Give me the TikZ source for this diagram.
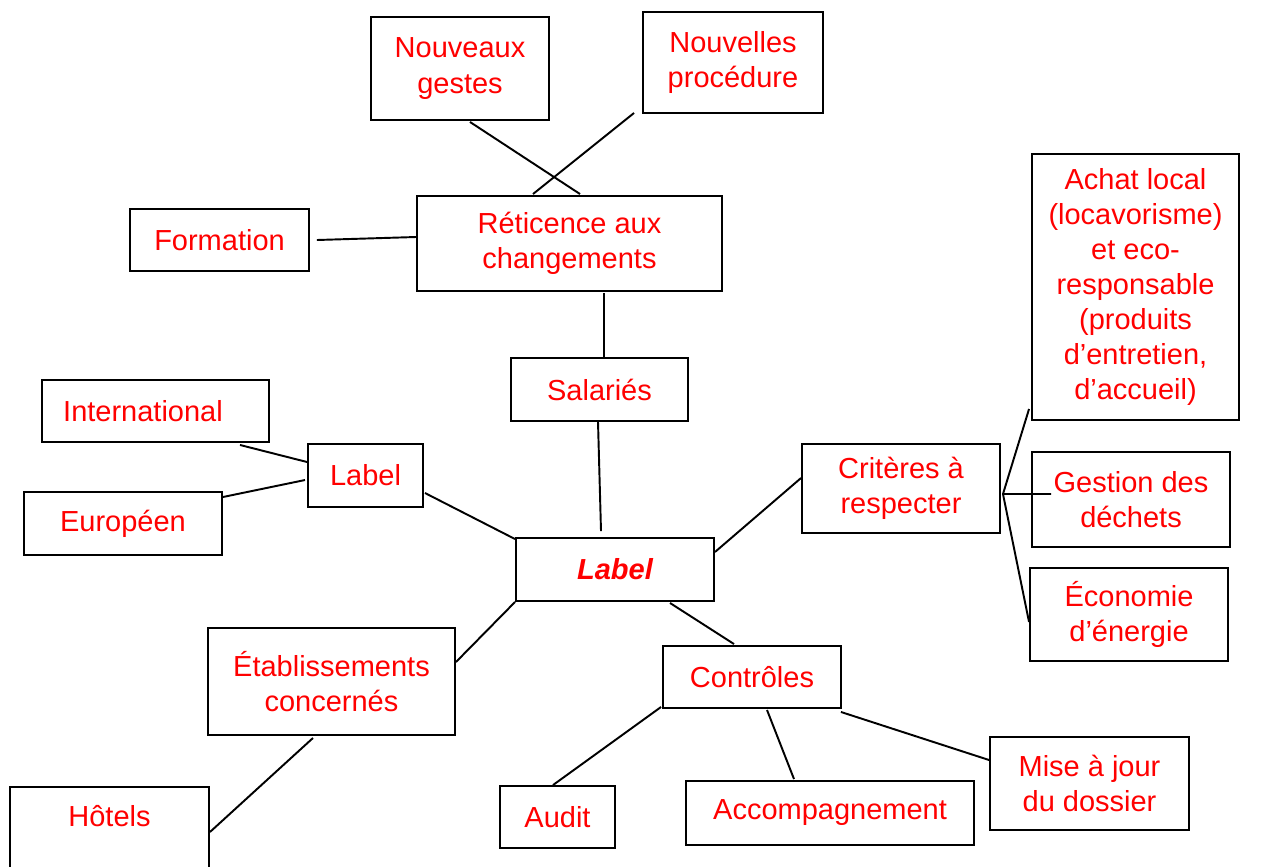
\documentclass[tikz,border=0pt]{standalone}
\usepackage{fontspec}
\setmainfont{Liberation Sans}
\usetikzlibrary{calc}
\tikzset{
  mapbox/.style={draw,line width=1.1pt,align=center,text=red,inner sep=0pt,
    font=\fontsize{16.5}{20}\selectfont},
  link/.style={line width=1.1pt}
}
\begin{document}
\begin{tikzpicture}[x=0.02cm,y=-0.02cm]
  \useasboundingbox (0,0) rectangle (1273,866);
  \node [mapbox,minimum width=178*0.02cm,minimum height=103*0.02cm] (gestes)    at (460,68.5)   {Nouveaux\\gestes};
  \node [mapbox,minimum width=180*0.02cm,minimum height=101*0.02cm] (procedure) at (733,62.5)   {Nouvelles\\procédure};
  \node [mapbox,minimum width=179*0.02cm,minimum height=62*0.02cm]  (formation) at (219.5,240)  {Formation};
  \node [mapbox,minimum width=305*0.02cm,minimum height=95*0.02cm]  (reticence) at (569.5,243.5) {Réticence aux\\changements};
  \node [mapbox,minimum width=177*0.02cm,minimum height=63*0.02cm]  (salaries)  at (599.5,389.5) {Salariés};
  \node [mapbox,minimum width=227*0.02cm,minimum height=62*0.02cm]  (inter)     at (155.5,411)  {International\hspace{0.5cm}};
  \node [mapbox,minimum width=115*0.02cm,minimum height=63*0.02cm]  (labelsub)  at (365.5,475.5) {Label};
  \node [mapbox,minimum width=198*0.02cm,minimum height=63*0.02cm]  (europe)    at (123,523.5)  {Européen};
  \node [mapbox,minimum width=198*0.02cm,minimum height=63*0.02cm,font=\fontsize{16.5}{20}\selectfont\bfseries\itshape] (label) at (615,569.5) {Label};
  \node [mapbox,minimum width=198*0.02cm,minimum height=89*0.02cm]  (criteres)  at (901,488.5)  {Critères à\\respecter};
  \node [mapbox,minimum width=207*0.02cm,minimum height=266*0.02cm] (achat)     at (1135.5,287) {Achat local\\(locavorisme)\\et eco-\\responsable\\(produits\\d’entretien,\\d’accueil)};
  \node [mapbox,minimum width=198*0.02cm,minimum height=95*0.02cm]  (dechets)   at (1131,499.5) {Gestion des\\déchets};
  \node [mapbox,minimum width=198*0.02cm,minimum height=93*0.02cm]  (energie)   at (1129,614.5) {Économie\\d’énergie};
  \node [mapbox,minimum width=247*0.02cm,minimum height=107*0.02cm] (etab)      at (331.5,681.5) {Établissements\\concernés};
  \node [mapbox,minimum width=178*0.02cm,minimum height=62*0.02cm]  (controles) at (752,677)    {Contrôles};
  \node [mapbox,minimum width=199*0.02cm,minimum height=94*0.02cm,anchor=north,
    text height=0.42cm,text depth=0.7cm] (hotels) at (109.5,786) {Hôtels};
  \node [mapbox,minimum width=115*0.02cm,minimum height=62*0.02cm]  (audit)     at (557.5,817)  {Audit};
  \node [mapbox,minimum width=288*0.02cm,minimum height=64*0.02cm]  (accomp)    at (830,813)    {Accompagnement};
  \node [mapbox,minimum width=199*0.02cm,minimum height=93*0.02cm]  (dossier)   at (1089.5,783.5) {Mise à jour\\du dossier};
  \coordinate (fork) at ($(criteres.east)+(2,5.5)$);

  \draw [link] ($(gestes.south)+(10,1)$) -- ($(reticence.north)+(10.5,-1)$);
  \draw [link] ($(procedure.south west)+(-8,-1)$) -- ($(reticence.north)+(-36.5,-1)$);
  \draw [link] ($(formation.east)+(7,0)$) -- ($(reticence.west)+(0,-6.5)$);
  \draw [link] ($(reticence.south)+(34.5,1)$) -- ($(salaries.north)+(4.5,0)$);
  \draw [link] ($(salaries.south)+(-1.5,0)$) -- ($(label.north)+(-14,-6)$);
  \draw [link] ($(inter.south)+(84.5,2)$) -- ($(labelsub.west)+(0,-13.5)$);
  \draw [link] ($(europe.east)+(0,-26.5)$) -- ($(labelsub.west)+(-2,4.5)$);
  \draw [link] ($(labelsub.east)+(1,17.5)$) -- ($(label.north west)+(0,2)$);
  \draw [link] ($(criteres.west)+(0,-10.5)$) -- ($(label.east)+(0,-17.5)$);
  \draw [link] (fork) -- ($(achat.south west)+(-2,-12)$);
  \draw [link] (fork) -- ($(dechets.west)+(20,-5.5)$);
  \draw [link] (fork) -- ($(energie.west)+(0,7.5)$);
  \draw [link] (label.south west) -- ($(etab.east)+(0,-19.5)$);
  \draw [link] ($(label.south)+(55,1)$) -- ($(controles.north)+(-18,-1)$);
  \draw [link] ($(etab.south)+(-18.5,2)$) -- ($(hotels.north east)+(0,46)$);
  \draw [link] ($(controles.south west)+(-1,-2)$) -- ($(audit.north)+(-4.5,0)$);
  \draw [link] ($(controles.south)+(15,1)$) -- ($(accomp.north)+(-36,-1)$);
  \draw [link] ($(controles.south east)+(-1,3)$) -- ($(dossier.west)+(0,-23.5)$);
\end{tikzpicture}
\end{document}
